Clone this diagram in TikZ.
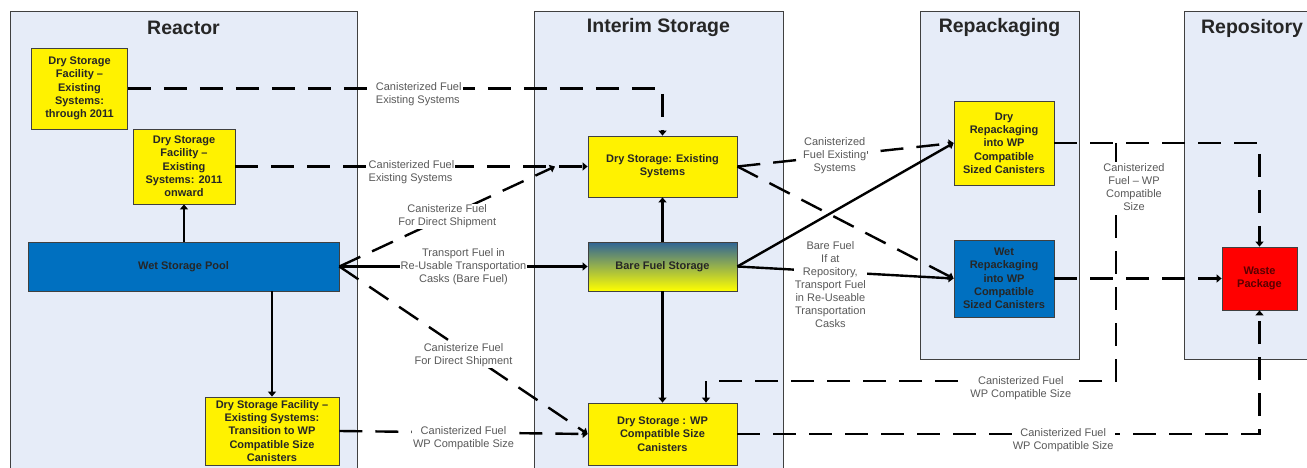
\documentclass[tikz,border=0pt]{standalone}
\usepackage{fontspec}
\setmainfont{Liberation Sans}
\usetikzlibrary{arrows.meta}

\definecolor{panelblue}{RGB}{230,236,248}
\definecolor{poolblue}{RGB}{0,112,192}
\definecolor{steelblue}{RGB}{47,100,150}
\definecolor{labelgray}{RGB}{89,89,89}
\definecolor{edgegray}{RGB}{64,64,64}
\definecolor{darkred}{RGB}{90,0,0}

\begin{document}
\begin{tikzpicture}[x=1pt, y=-1pt,
    panel/.style = {draw=edgegray, line width=0.8pt, fill=panelblue},
    title/.style = {font=\fontsize{19.5}{21}\selectfont\bfseries, text=black!85},
    box/.style = {draw=edgegray, line width=0.8pt, inner sep=0pt, align=center,
      font=\fontsize{11}{13.3}\selectfont\bfseries, text=black!85},
    drybox/.style = {box, fill=yellow},
    wetbox/.style = {box, fill=poolblue},
    lbl/.style = {font=\fontsize{11}{13}\selectfont, text=labelgray,
      fill=white, inner sep=1pt, align=center},
    flow/.style = {line width=2.4pt, -{Triangle[length=5pt,width=8pt]}},
    canflow/.style = {flow, dash pattern=on 23pt off 13pt}]
  \useasboundingbox (0,0) rectangle (1307,468);

  % stages
  \draw[panel] (10,11) rectangle (357,475);
  \draw[panel] (534,11) rectangle (783,475);
  \draw[panel] (920,11) rectangle (1079,359);
  \draw[panel] (1184,11) rectangle (1312,359);
  \node[title] (reactor) at (183.5,28) {Reactor};
  \node[title] (interim) at (658.5,28) {Interim Storage};
  \node[title] (repack) at (999.5,28) {Repackaging};
  \node[title] (repo) at (1252,28) {Repository};

  % reactor
  \node[drybox, minimum width=96pt, minimum height=81pt] (ds1) at (79.5,88.5)
    {Dry Storage\\Facility --\\Existing\\Systems:\\through 2011};
  \node[drybox, minimum width=102pt, minimum height=75pt] (ds2) at (184,166.5)
    {Dry Storage\\Facility --\\Existing\\Systems: 2011\\onward};
  \node[wetbox, minimum width=311pt, minimum height=49pt] (wet) at (183.5,266.5)
    {Wet Storage Pool};
  \node[drybox, minimum width=134pt, minimum height=68pt] (ds3) at (272,431)
    {Dry Storage Facility --\\Existing Systems:\\Transition to WP\\Compatible Size\\Canisters};

  % interim storage
  \node[drybox, minimum width=149pt, minimum height=61pt] (dse) at (662.5,166.5)
    {Dry Storage: Existing\\Systems};
  \node[box, top color=steelblue, bottom color=yellow, minimum width=149pt,
    minimum height=49pt] (bare) at (662.5,266.5) {Bare Fuel Storage};
  \node[drybox, minimum width=149pt, minimum height=62pt] (dswp) at (662.5,434)
    {Dry Storage : WP\\Compatible Size\\Canisters};

  % repackaging and repository
  \node[drybox, minimum width=100pt, minimum height=84pt] (drp) at (1004,143)
    {Dry\\Repackaging\\into WP\\Compatible\\Sized Canisters};
  \node[wetbox, minimum width=100pt, minimum height=77pt] (wrp) at (1004,278.5)
    {Wet\\Repackaging\\into WP\\Compatible\\Sized Canisters};
  \node[box, fill=red, text=darkred, minimum width=75pt, minimum height=63pt]
    (waste) at (1259.5,278.5) {Waste\\Package};

  \coordinate (merge) at (555,166.5);
  \coordinate (tap) at (1116,143);
  \coordinate (turn) at (706,381);

  % solid flows
  \draw[flow] (wet.north -| ds2.south) -- (ds2.south);
  \draw[flow] (wet.south -| ds3.north) -- (ds3.north);
  \draw[flow] (bare.north) -- (dse.south);
  \draw[flow] (bare.south) -- (dswp.north);
  \draw[flow] (bare.east) -- (drp.west);
  \draw[flow] (wet.east) -- node[lbl] (l4)
    {Transport Fuel in\\Re-Usable Transportation\\Casks (Bare Fuel)} (bare.west);
  \draw[flow] (bare.east) -- node[lbl, pos=0.43, yshift=-13pt] (l8)
    {Bare Fuel\\If at\\Repository,\\Transport Fuel\\in Re-Useable\\Transportation\\Casks} (wrp.west);

  % canisterized flows
  \draw[canflow] (ds1.east) -| node[lbl, align=left, pos=0.272, yshift=-6pt] (l1)
    {Canisterized Fuel\\Existing Systems} (dse.north);
  \draw[canflow] (ds2.east) -- node[lbl, align=left, yshift=-6pt] (l2)
    {Canisterized Fuel\\Existing Systems} (dse.west);
  \draw[canflow] (wet.east) -- node[lbl] (l3)
    {Canisterize Fuel\\For Direct Shipment} (merge);
  \draw[canflow] (wet.east) -- node[lbl, yshift=-5pt] (l5)
    {Canisterize Fuel\\For Direct Shipment} (dswp.west);
  \draw[canflow] (ds3.east) -- node[lbl, yshift=-6pt] (l6)
    {Canisterized Fuel\\WP Compatible Size} (dswp.west);
  \draw[canflow] (dse.east) -- (wrp.west);
  \draw[canflow] (dse.east) -- node[lbl, pos=0.45] (l7)
    {Canisterized\\Fuel Existing\\Systems} (drp.west);
  \draw[canflow] (drp.east) -| (waste.north);
  \draw[canflow] (wrp.east) -- (waste.west);
  \draw[canflow] (tap) |- node[lbl, pos=0.092, xshift=18pt] (l9)
    {Canisterized\\Fuel -- WP\\Compatible\\Size}
    node[lbl, pos=0.616, yshift=-7pt] (l10) {Canisterized Fuel\\WP Compatible Size}
    (turn) -- (turn |- dswp.north);
  \draw[canflow] (dswp.east) -| node[lbl, pos=0.312, yshift=-6pt] (l11)
    {Canisterized Fuel\\WP Compatible Size} (waste.south);
\end{tikzpicture}
\end{document}
